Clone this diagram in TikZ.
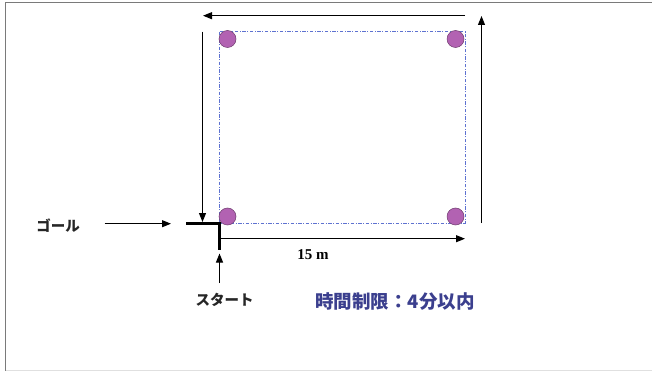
\documentclass[tikz,border=0pt]{standalone}
\usepackage{fontspec}
\setmainfont{Liberation Serif}
\newfontfamily\jpfont{Noto Sans CJK JP}
\usetikzlibrary{arrows.meta}
\definecolor{framegray}{HTML}{7A7A7A}
\definecolor{dashblue}{HTML}{5E72D0}
\definecolor{conefill}{HTML}{B262B2}
\definecolor{conedraw}{HTML}{6E3C6E}
\definecolor{limitblue}{HTML}{3B3F8E}
\tikzset{
  arr/.style={draw=black, line width=0.9pt, -{Triangle[length=9pt,width=7pt]}},
  cone/.style={circle, minimum size=17pt, inner sep=0pt, fill=conefill, draw=conedraw, line width=0.5pt},
  field/.style={draw=dashblue, line width=0.7pt, dash pattern=on 3.5pt off 1.5pt on 1pt off 1.5pt},
  thick bar/.style={draw=black, line width=3pt},
  jplabel/.style={font=\jpfont\bfseries\fontsize{14.5}{16}\selectfont, inner sep=0pt, text=black!85}
}
\begin{document}
\begin{tikzpicture}[x=1pt,y=-1pt]
\useasboundingbox (0,0) rectangle (652,371);
% frame
\draw[framegray, line width=1.8pt] (652,2.5) -- (5.5,2.5) -- (5.5,371);
\draw[black!12, line width=1pt] (5.5,370) -- (652,370);
% field
\coordinate (tl) at (219.5,31.7);
\coordinate (br) at (465,223);
\draw[field] (tl) rectangle (br);
% cones
\node[cone] (c1) at (227.5,39) {};
\node[cone] (c2) at (455.5,39) {};
\node[cone] (c3) at (227.5,216.5) {};
\node[cone] (c4) at (455.5,216.5) {};
% thick start/goal corner
\coordinate (barL) at (186,223.5);
\coordinate (corner) at (219.5,223.5);
\coordinate (barB) at (219.5,250);
\draw[thick bar, line join=miter] (barL) -- (corner) -- (barB);
% route arrows
\coordinate (bS) at (220,238.7);
\coordinate (bE) at (465,238.7);
\draw[arr] (bS) -- (bE);
\coordinate (rS) at (481.5,223);
\coordinate (rE) at (481.5,16);
\draw[arr] (rS) -- (rE);
\coordinate (tS) at (465,15.7);
\coordinate (tE) at (203,15.7);
\draw[arr] (tS) -- (tE);
\coordinate (lS) at (202.5,31.7);
\coordinate (lE) at (202.5,222);
\draw[arr] (lS) -- (lE);
% labels
\node[jplabel] (goal) at (58,225.5) {ゴール};
\coordinate (gS) at (104.5,223.7);
\coordinate (gE) at (171,223.7);
\draw[arr] (gS) -- (gE);
\node[jplabel] (start) at (224.5,299.5) {スタート};
\coordinate (sS) at (219.5,283);
\coordinate (sE) at (219.5,253.5);
\draw[arr] (sS) -- (sE);
\node[font=\bfseries\fontsize{15}{17}\selectfont, inner sep=0pt] (dist) at (313,254.5) {15 m};
\node[font=\jpfont\bfseries\fontsize{18.5}{20}\selectfont, text=limitblue, inner sep=0pt] (limit) at (395,302) {時間制限：4分以内};
\end{tikzpicture}
\end{document}
